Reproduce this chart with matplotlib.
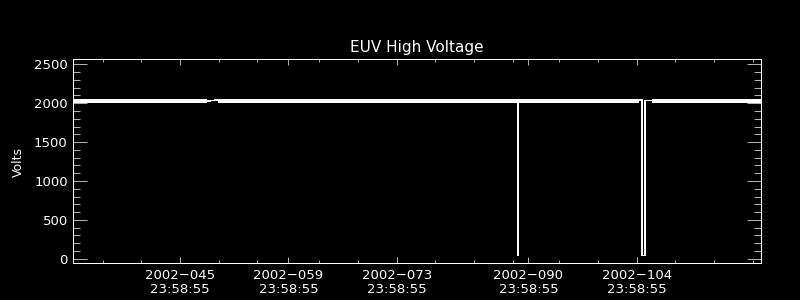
import matplotlib
matplotlib.use("Agg")
import matplotlib.pyplot as plt

# ---- data (x in day-of-year 2002, fractional) ----
time_days = [32.14, 49.45, 50.87, 89.695, 89.70, 89.705, 105.33, 105.72, 105.72, 106.11, 106.11, 107.01, 121.02]
volts     = [2028,  2028,  2040,  2028,   40,    2028,   2040,   2040,   40,     40,     2036,   2036,   2028]

# dense-data envelope (the thick noisy band)
band_start = [32.14, 50.87, 107.01]
band_end   = [49.45, 105.33, 121.02]
band_low   = [2008, 2008, 2008]
band_high  = [2050, 2050, 2050]

major_ticks = [46, 60, 74, 91, 105]
major_labels = ["2002\u2212045\n23:58:55", "2002\u2212059\n23:58:55", "2002\u2212073\n23:58:55",
                "2002\u2212090\n23:58:55", "2002\u2212104\n23:58:55"]
minor_ticks = [36, 41, 51, 56, 64, 69, 79, 84, 89, 95, 100, 110, 115, 120]
y_ticks = [0, 500, 1000, 1500, 2000, 2500]
y_minor = [v for v in range(0, 2600, 100) if v % 500 != 0]

title = "EUV High Voltage"
ylabel = "Volts"

plt.rcParams['font.family'] = ['DejaVu Sans']
fig = plt.figure(figsize=(8, 3), dpi=100, facecolor='black')
ax = fig.add_axes([72.7/800, 1-263/300, (760.7-72.7)/800, (263-59.3)/300])
ax.set_facecolor('black')

ax.plot(time_days, volts, color='white', lw=0.5, antialiased=False)
for s, e, lo, hi in zip(band_start, band_end, band_low, band_high):
    ax.fill_between([s, e], [lo, lo], [hi, hi], color='white', lw=0, antialiased=False)

ax.set_xlim(32.14, 121.02)
ax.set_ylim(-55, 2564)

ax.set_xticks(major_ticks)
ax.set_xticklabels(major_labels)
ax.set_xticks(minor_ticks, minor=True)
ax.set_yticks(y_ticks)
ax.set_yticklabels([str(v) for v in y_ticks])
ax.set_yticks(y_minor, minor=True)

for sp in ax.spines.values():
    sp.set_color('white')
    sp.set_linewidth(0.72)

ax.tick_params(axis='x', which='major', direction='in', length=4.5, width=0.5,
               colors='white', top=True, bottom=True, labelsize=9.5, pad=4.0)
ax.tick_params(axis='x', which='minor', direction='in', length=2.2, width=0.5,
               colors='white', top=True, bottom=True)
ax.tick_params(axis='y', which='major', direction='in', length=10, width=0.5,
               colors='white', left=True, right=True, labelsize=9.5, pad=3.6)
ax.tick_params(axis='y', which='minor', direction='in', length=5, width=0.5,
               colors='white', left=True, right=True)
for lab in ax.get_xticklabels():
    lab.set_linespacing(1.15)

fig.text(416.7/800, 1-47/300, title, color='white', fontsize=11, ha='center', va='center')
fig.text(18.3/800, 1-162.3/300, ylabel, color='white', fontsize=9, ha='center', va='center', rotation=90)

fig.savefig("out.png", dpi=100, facecolor='black')
